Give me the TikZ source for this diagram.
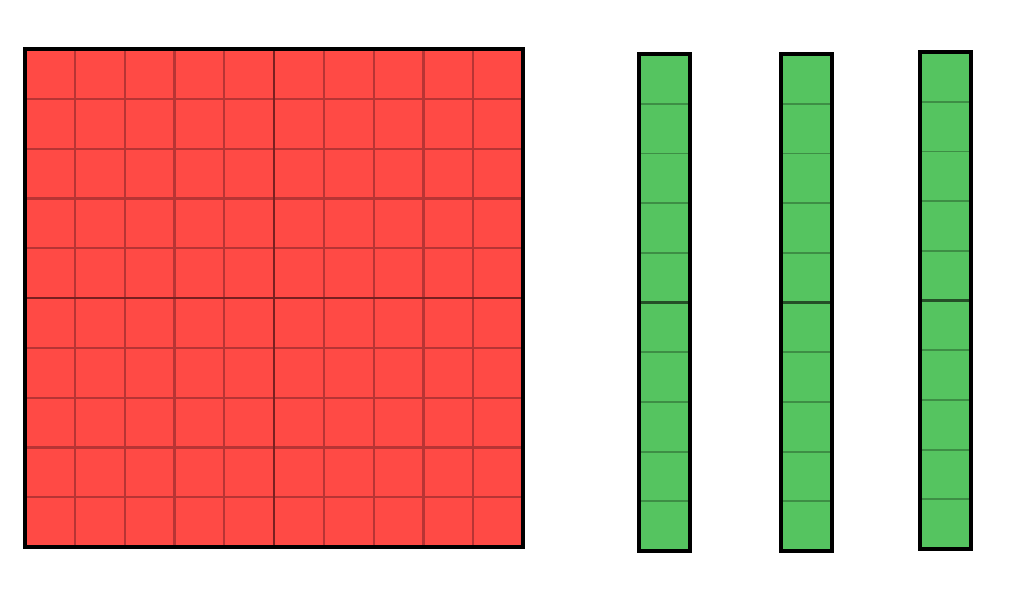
\documentclass[tikz,border=0pt]{standalone}
\definecolor{sqred}{HTML}{FF4A45}
\definecolor{strgreen}{HTML}{55C460}
\definecolor{redline}{HTML}{B83434}
\definecolor{redmid}{HTML}{7A2020}
\definecolor{greenline}{HTML}{3D8E45}
\definecolor{greenmid}{HTML}{244F27}
\tikzset{
  outer/.style={line width=4pt, draw=black},
  thingrid/.style={line width=2.2pt, draw=redline},
  midgrid/.style={line width=2.6pt, draw=redmid},
  gthin/.style={line width=1.8pt, draw=greenline},
  gmid/.style={line width=2.2pt, draw=greenmid},
}
\begin{document}
\begin{tikzpicture}[x=1pt,y=-1pt]
\useasboundingbox (0,0) rectangle (1012,592);
% red hundred square
\fill[sqred] (25,49) rectangle (523,547);
\foreach \i in {1,2,3,4,6,7,8,9}{
  \draw[thingrid] ({25+49.8*\i},49) -- ({25+49.8*\i},547);
  \draw[thingrid] (25,{49+49.8*\i}) -- (523,{49+49.8*\i});
}
\draw[midgrid] (274,49) -- (274,547);
\draw[midgrid] (25,298) -- (523,298);
\draw[outer] (25,49) rectangle (523,547);
% green tens strips
\foreach \x/\y in {639/54, 781/54, 920/52}{
  \fill[strgreen] (\x,\y) rectangle (\x+51,\y+497);
  \foreach \j in {1,2,3,4,6,7,8,9}{
    \draw[gthin] (\x,{\y+49.7*\j}) -- (\x+51,{\y+49.7*\j});
  }
  \draw[gmid] (\x,{\y+248.5}) -- (\x+51,{\y+248.5});
  \draw[outer] (\x,\y) rectangle (\x+51,\y+497);
}
\end{tikzpicture}
\end{document}
